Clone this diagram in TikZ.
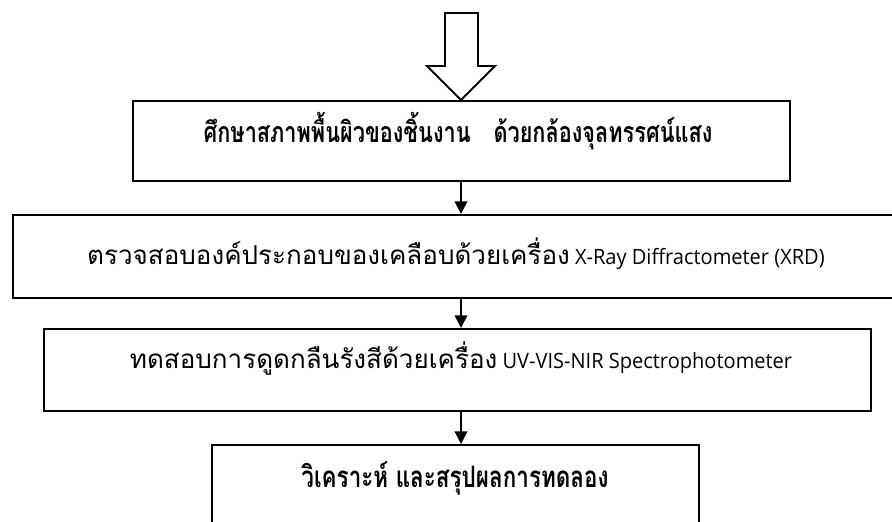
\documentclass[tikz,border=0pt]{standalone}
\usepackage{fontspec}
\setmainfont{Open Sans}
\newfontfamily\thai[Script=Thai]{Loma}
\newfontfamily\thaibig[Script=Thai,FakeStretch=0.76]{Loma}
\newfontfamily\latn[FakeStretch=0.95]{Open Sans}
\usetikzlibrary{arrows.meta}
\newcommand{\pxu}{0.025cm}
\begin{document}
\begin{tikzpicture}[x=0.025cm,y=-0.025cm,
  box/.style={draw=black, line width=1.4pt, anchor=north west, inner sep=0pt, fill=none},
  conn/.style={draw=black, line width=1.1pt, -{Triangle[length=9pt,width=9pt]}},
  bigtext/.style={font=\thaibig\bfseries\fontsize{21}{25}\selectfont},
  titletext/.style={font=\thaibig\bfseries\fontsize{20.3}{24}\selectfont},
  midtext/.style={font=\thai\fontsize{18.5}{22}\selectfont}]
\useasboundingbox (0,0) rectangle (892,521);
\clip (0,0) rectangle (892,521);
% boxes
\node[box, minimum width=657*\pxu, minimum height=80*\pxu] (b1) at (132,100) {};
\node[box, minimum width=893*\pxu, minimum height=83*\pxu] (b2) at (12,214) {};
\node[box, minimum width=827*\pxu, minimum height=82*\pxu] (b3) at (43,328) {};
\node[box, minimum width=487*\pxu, minimum height=84*\pxu] (b4) at (211,444) {};
% texts
\node[titletext] (t1) at (458,131) {ศึกษาสภาพพื้นผิวของชิ้นงาน\hspace{0.8em}ด้วยกล้องจุลทรรศน์แสง};
\node[midtext] (t2) at (456,254) {ตรวจสอบองค์ประกอบของเคลือบด้วยเครื่อง{\latn\fontsize{15}{19}\selectfont\ X-Ray Diffractometer (XRD)}};
\node[midtext] (t3) at (461,359) {ทดสอบการดูดกลืนรังสีด้วยเครื่อง{\latn\fontsize{15}{19}\selectfont\ UV-VIS-NIR Spectrophotometer}};
\node[bigtext] (t4) at (455,478) {วิเคราะห์ และสรุปผลการทดลอง};
% connectors
\coordinate (ax) at (461,0);
\draw[conn] (b1.south -| ax) -- (b2.north -| ax);
\draw[conn] (b2.south -| ax) -- (b3.north -| ax);
\draw[conn] (b3.south -| ax) -- (b4.north -| ax);
% big hollow arrow into box 1
\coordinate (tip) at (b1.north -| ax);
\draw[line width=1.3pt, line join=miter, fill=white]
  (445,13) -- (478,13) -- (478,66) -- (495,66) -- (tip) -- (427,66) -- (445,66) -- cycle;
\end{tikzpicture}
\end{document}
